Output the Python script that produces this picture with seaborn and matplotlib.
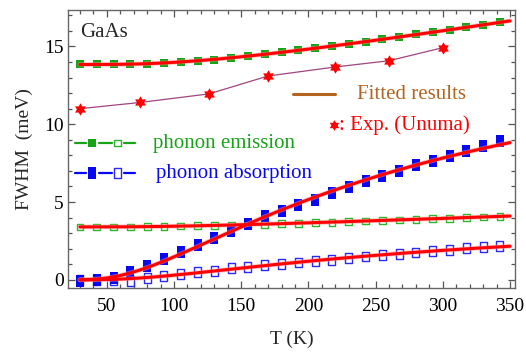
import numpy as np
import pandas as pd
import matplotlib
matplotlib.use("Agg")
import matplotlib.pyplot as plt
from matplotlib.path import Path
from matplotlib.markers import MarkerStyle
from matplotlib.ticker import MultipleLocator
import seaborn as sns

# Temperature grid of the calculated linewidths (K)
temperature = [30, 42.5, 55, 67.5, 80, 92.5, 105, 117.5, 130, 142.5, 155, 167.5, 180,
               192.5, 205, 217.5, 230, 242.5, 255, 267.5, 280, 292.5, 305, 317.5, 330, 342.5]

# Phonon emission: filled = total, open = partial contribution (meV)
emission_filled = [13.85, 13.85, 13.85, 13.86, 13.9, 13.93, 14.0, 14.05, 14.14, 14.24, 14.36,
                   14.5, 14.64, 14.8, 14.92, 15.02, 15.15, 15.3, 15.45, 15.6, 15.78, 15.92,
                   16.06, 16.22, 16.36, 16.56]
emission_open = [3.4, 3.4, 3.4, 3.4, 3.42, 3.44, 3.46, 3.48, 3.51, 3.53, 3.56, 3.58, 3.61,
                 3.63, 3.67, 3.7, 3.74, 3.78, 3.82, 3.85, 3.89, 3.93, 3.96, 4.0, 4.04, 4.09]

# Phonon absorption: filled = total, open = partial contribution (meV)
absorption_filled = [-0.05, -0.03, 0.12, 0.5, 0.9, 1.35, 1.8, 2.25, 2.7, 3.15, 3.6, 4.1, 4.45,
                     4.8, 5.15, 5.55, 5.95, 6.35, 6.65, 7.0, 7.35, 7.65, 7.95, 8.3, 8.6, 8.9]
absorption_open = [0.0, 0.0, -0.03, -0.05, 0.11, 0.24, 0.37, 0.5, 0.59, 0.74, 0.85, 0.93, 1.02,
                   1.12, 1.2, 1.3, 1.4, 1.5, 1.58, 1.67, 1.76, 1.85, 1.93, 2.02, 2.09, 2.15]

# Experimental linewidths (Unuma)
exp_temperature = [30, 75, 126, 170, 220, 260, 300]
exp_fwhm = [11.0, 11.4, 11.95, 13.1, 13.68, 14.08, 14.92]

x_ticks = [50, 100, 150, 200, 250, 300, 350]
y_ticks = [0, 5, 10, 15]

GREEN = "#17A317"
GREEN_OPEN = "#2BB52B"
BLUE = "#0808F0"
BLUE_OPEN = "#2A2AF2"
RED = "#FF0000"
BROWN = "#B4641E"
EXP_LINE = "#A0457F"


def thermal_fit(t, y, t_eval, kind):
    """Least-squares fit with a thermal activation term; theta chosen on a grid.

    kind == "bose":      a + c / (exp(theta/T) - 1)
    kind == "arrhenius": c * exp(-theta/T)
    """
    t = np.asarray(t, float)
    y = np.asarray(y, float)

    def basis(tt, theta):
        if kind == "bose":
            return np.column_stack([np.ones_like(tt), 1.0 / np.expm1(theta / tt)])
        return np.column_stack([np.exp(-theta / tt)])

    best = None
    for theta in np.arange(20, 1000, 2):
        A = basis(t, theta)
        coef = np.linalg.lstsq(A, y, rcond=None)[0]
        r = np.sum((A @ coef - y) ** 2)
        if best is None or r < best[0]:
            best = (r, theta, coef)
    _, theta, coef = best
    return basis(t_eval, theta) @ coef


def rect_marker(aspect):
    verts = [(-aspect, -1), (aspect, -1), (aspect, 1), (-aspect, 1), (-aspect, -1)]
    return MarkerStyle(Path(verts, closed=True))


def hexagram_marker():
    ang = np.deg2rad(90 + 30 * np.arange(12))
    rad = np.where(np.arange(12) % 2 == 0, 1.0, 0.58)
    verts = list(zip(rad * np.cos(ang), rad * np.sin(ang)))
    verts.append(verts[0])
    return MarkerStyle(Path(verts, closed=True))


sns.set_theme(style="ticks")
plt.rcParams["font.family"] = ["Liberation Serif", "DejaVu Serif"]

fig = plt.figure(figsize=(5.26, 3.52), dpi=100)
ax = fig.add_axes([0.130, 0.182, 0.849, 0.790])

df = pd.DataFrame({
    "T": temperature,
    "em_f": emission_filled,
    "em_o": emission_open,
    "ab_f": absorption_filled,
    "ab_o": absorption_open,
})
exp_df = pd.DataFrame({"T": exp_temperature, "fwhm": exp_fwhm})

blue_filled_marker = rect_marker(0.6)
blue_open_marker = rect_marker(0.7)
star = hexagram_marker()

# Calculated points
sns.scatterplot(data=df, x="T", y="em_f", marker="s", s=28, color=GREEN,
                linewidth=0, ax=ax, zorder=3)
sns.scatterplot(data=df, x="T", y="em_o", marker="s", s=24, color=GREEN_OPEN,
                linewidth=1.0, ax=ax, zorder=3)
ax.collections[-1].set_facecolor("none")
ax.collections[-1].set_edgecolor(GREEN_OPEN)
sns.scatterplot(data=df, x="T", y="ab_o", marker=blue_open_marker, s=50, color=BLUE_OPEN,
                linewidth=1.0, ax=ax, zorder=3)
ax.collections[-1].set_facecolor("none")
ax.collections[-1].set_edgecolor(BLUE_OPEN)
sns.scatterplot(data=df, x="T", y="ab_f", marker=blue_filled_marker, s=78, color=BLUE,
                linewidth=0, ax=ax, zorder=3)

# Experiment
sns.lineplot(data=exp_df, x="T", y="fwhm", color=EXP_LINE, linewidth=0.9, sort=False,
             ax=ax, zorder=2)
sns.scatterplot(data=exp_df, x="T", y="fwhm", marker=star, s=80, color=RED,
                linewidth=0, ax=ax, zorder=4)

# Fitted curves
t_fit = np.linspace(30, 350, 300)
for col, kind in [("em_f", "bose"), ("em_o", "bose"),
                  ("ab_f", "arrhenius"), ("ab_o", "arrhenius")]:
    fit = thermal_fit(df["T"], df[col], t_fit, kind)
    sns.lineplot(x=t_fit, y=fit, color="#FF9090", linewidth=3.4, alpha=0.5, ax=ax,
                 zorder=5, sort=False)
    sns.lineplot(x=t_fit, y=fit, color=RED, linewidth=2.2, ax=ax, zorder=6, sort=False)

# Axes styling
ax.set_xlim(21.4, 353.7)
ax.set_ylim(-0.52, 17.35)
ax.set_xticks(x_ticks)
ax.set_yticks(y_ticks)
ax.xaxis.set_minor_locator(MultipleLocator(10))
ax.yaxis.set_minor_locator(MultipleLocator(1))
ax.tick_params(which="both", direction="in", top=True, right=True, color="#555555",
               labelsize=14, labelcolor="black", width=0.9)
ax.tick_params(which="major", length=5)
ax.tick_params(which="minor", length=3)
ax.tick_params(axis="x", which="major", pad=7.5)
ax.tick_params(axis="y", which="major", pad=3.5)
for sp in ax.spines.values():
    sp.set_color("#666666")
    sp.set_linewidth(1.0)
ax.set_xlabel("T (K)", fontsize=14, labelpad=11)
ax.set_ylabel("FWHM  (meV)", fontsize=14, labelpad=8)

# Annotations and key
tr = ax.transAxes
ax.text(0.026, 0.917, "GaAs", transform=tr, fontsize=15, va="center", ha="left")

ax.plot([0.503, 0.597], [0.697, 0.697], color=BROWN, lw=2.2, transform=tr, clip_on=False)
ax.text(0.646, 0.697, "Fitted results", transform=tr, fontsize=15, color=BROWN,
        va="center", ha="left")

ax.scatter([0.595], [0.585], marker=star, s=60, color=RED, linewidth=0, transform=tr,
           clip_on=False, zorder=6)
ax.text(0.606, 0.585, ": Exp. (Unuma)", transform=tr, fontsize=15, color=RED,
        va="center", ha="left")

for yk, col, fcol, mk_f, mk_o, s_f, s_o, label, xt in [
    (0.521, GREEN, GREEN_OPEN, "s", "s", 28, 22, "phonon emission", 0.190),
    (0.413, BLUE, BLUE_OPEN, blue_filled_marker, blue_open_marker, 78, 50,
     "phonon absorption", 0.196),
]:
    for x0, x1 in [(0.0143, 0.040), (0.068, 0.097), (0.124, 0.149)]:
        ax.plot([x0, x1], [yk, yk], color=col, lw=1.6, transform=tr, clip_on=False)
    ax.scatter([0.053], [yk], marker=mk_f, s=s_f, color=col, linewidth=0, transform=tr,
               clip_on=False, zorder=6)
    ax.scatter([0.110], [yk], marker=mk_o, s=s_o, facecolor="none", edgecolor=fcol,
               linewidth=1.0, transform=tr, clip_on=False, zorder=6)
    ax.text(xt, yk, label, transform=tr, fontsize=15, color=col, va="center", ha="left")

fig.savefig("out.png", dpi=100)
